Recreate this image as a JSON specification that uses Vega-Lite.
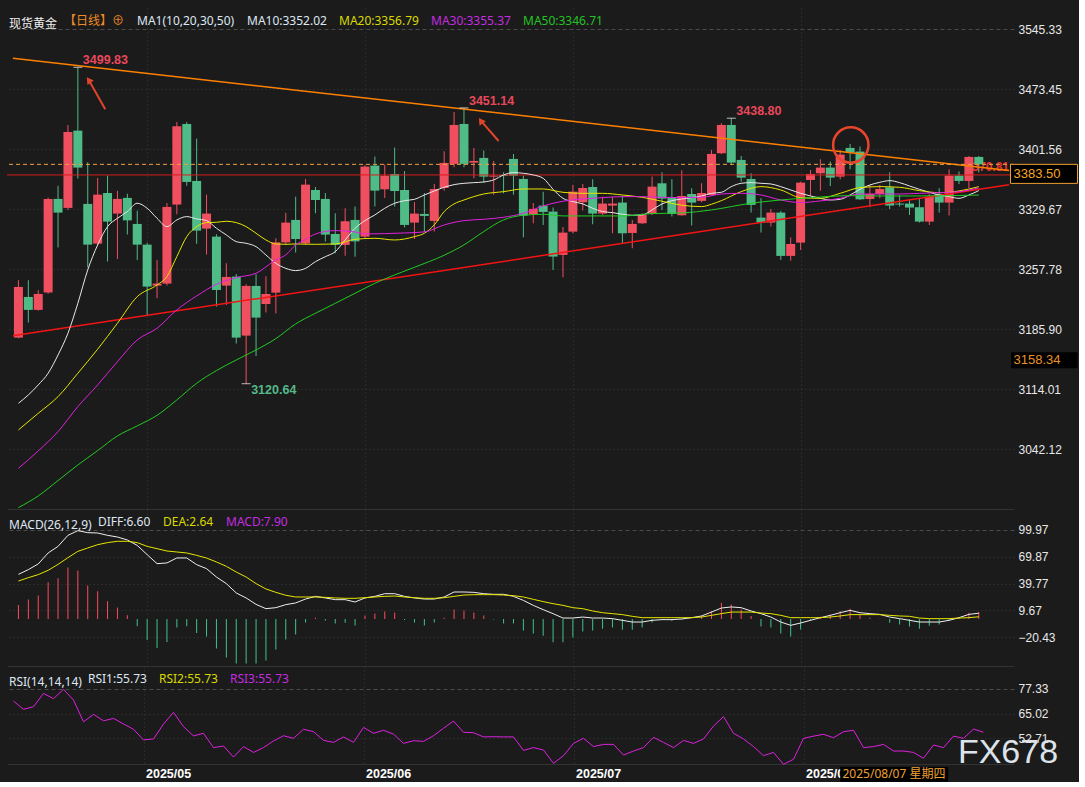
{
"$schema": "https://vega.github.io/schema/vega-lite/v6.json",
"background": "#1b1b1b",
"padding": {"left": 6, "top": 8, "right": 0, "bottom": 0},
"bounds": "flush",
"spacing": 0,
"config": {"view": {"stroke": null}, "font": "Liberation Sans", "axis": {"labelOverlap": false}},
"resolve": {"scale": {"x": "independent", "y": "independent", "color": "independent"}, "legend": {"color": "independent"}},
"datasets": {
"candles": [
{"i":0,"o":3175.9,"h":3244.6,"l":3175.0,"c":3236.6},
{"i":1,"o":3224.6,"h":3244.6,"l":3193.9,"c":3209.1},
{"i":2,"o":3209.1,"h":3232.6,"l":3208.0,"c":3228.2},
{"i":3,"o":3229.8,"h":3343.7,"l":3228.5,"c":3342.1},
{"i":4,"o":3342.1,"h":3358.0,"l":3283.8,"c":3325.7},
{"i":5,"o":3331.3,"h":3430.7,"l":3328.9,"c":3422.3},
{"i":6,"o":3423.9,"h":3499.83,"l":3366.4,"c":3379.6},
{"i":7,"o":3336.1,"h":3386.0,"l":3259.8,"c":3287.3},
{"i":8,"o":3288.5,"h":3367.2,"l":3286.5,"c":3347.2},
{"i":9,"o":3349.2,"h":3370.0,"l":3267.2,"c":3314.9},
{"i":10,"o":3324.5,"h":3352.0,"l":3270.1,"c":3342.1},
{"i":11,"o":3343.3,"h":3348.4,"l":3299.4,"c":3316.4},
{"i":12,"o":3312.1,"h":3327.8,"l":3268.9,"c":3287.3},
{"i":13,"o":3287.3,"h":3289.7,"l":3201.9,"c":3237.0},
{"i":14,"o":3238.2,"h":3269.0,"l":3223.0,"c":3240.6},
{"i":15,"o":3240.6,"h":3337.3,"l":3238.2,"c":3332.5},
{"i":16,"o":3335.3,"h":3434.3,"l":3323.7,"c":3429.1},
{"i":17,"o":3431.9,"h":3434.3,"l":3358.0,"c":3362.4},
{"i":18,"o":3363.6,"h":3414.3,"l":3288.5,"c":3304.1},
{"i":19,"o":3306.5,"h":3347.2,"l":3275.4,"c":3324.5},
{"i":20,"o":3296.9,"h":3299.7,"l":3213.1,"c":3233.0},
{"i":21,"o":3238.2,"h":3265.0,"l":3215.0,"c":3248.6},
{"i":22,"o":3249.0,"h":3252.2,"l":3168.7,"c":3175.9},
{"i":23,"o":3178.3,"h":3239.8,"l":3120.64,"c":3237.8},
{"i":24,"o":3237.8,"h":3251.8,"l":3153.9,"c":3199.9},
{"i":25,"o":3216.2,"h":3249.4,"l":3205.9,"c":3228.2},
{"i":26,"o":3229.8,"h":3295.0,"l":3204.7,"c":3290.0},
{"i":27,"o":3290.0,"h":3325.5,"l":3287.0,"c":3313.7},
{"i":28,"o":3316.9,"h":3344.8,"l":3278.0,"c":3294.0},
{"i":29,"o":3288.9,"h":3366.0,"l":3287.0,"c":3359.2},
{"i":30,"o":3352.8,"h":3356.4,"l":3324.9,"c":3340.8},
{"i":31,"o":3342.1,"h":3349.2,"l":3291.2,"c":3299.3},
{"i":32,"o":3300.1,"h":3324.9,"l":3276.9,"c":3287.0},
{"i":33,"o":3287.0,"h":3330.9,"l":3274.1,"c":3315.3},
{"i":34,"o":3316.9,"h":3332.9,"l":3272.9,"c":3291.2},
{"i":35,"o":3296.9,"h":3382.5,"l":3295.0,"c":3380.8},
{"i":36,"o":3382.0,"h":3392.8,"l":3332.9,"c":3352.0},
{"i":37,"o":3353.6,"h":3383.2,"l":3343.2,"c":3370.0},
{"i":38,"o":3372.0,"h":3403.6,"l":3332.9,"c":3351.6},
{"i":39,"o":3352.8,"h":3375.6,"l":3307.7,"c":3310.9},
{"i":40,"o":3313.7,"h":3338.5,"l":3294.0,"c":3324.5},
{"i":41,"o":3324.1,"h":3349.2,"l":3302.5,"c":3321.7},
{"i":42,"o":3315.7,"h":3360.0,"l":3302.9,"c":3354.0},
{"i":43,"o":3355.2,"h":3399.2,"l":3352.0,"c":3385.2},
{"i":44,"o":3384.0,"h":3446.3,"l":3380.0,"c":3430.7},
{"i":45,"o":3431.9,"h":3451.14,"l":3380.0,"c":3384.0},
{"i":46,"o":3385.6,"h":3403.2,"l":3366.8,"c":3387.6},
{"i":47,"o":3391.2,"h":3400.0,"l":3361.6,"c":3368.8},
{"i":48,"o":3368.8,"h":3387.6,"l":3347.2,"c":3370.0},
{"i":49,"o":3370.5,"h":3374.0,"l":3348.8,"c":3369.5},
{"i":50,"o":3390.0,"h":3396.0,"l":3347.2,"c":3370.0},
{"i":51,"o":3366.0,"h":3370.0,"l":3296.1,"c":3322.1},
{"i":52,"o":3323.7,"h":3337.3,"l":3312.9,"c":3330.1},
{"i":53,"o":3334.1,"h":3350.8,"l":3310.9,"c":3326.5},
{"i":54,"o":3326.9,"h":3331.7,"l":3257.0,"c":3273.0},
{"i":55,"o":3275.0,"h":3308.5,"l":3248.2,"c":3301.7},
{"i":56,"o":3302.9,"h":3358.8,"l":3300.9,"c":3350.8},
{"i":57,"o":3338.1,"h":3360.0,"l":3328.1,"c":3355.2},
{"i":58,"o":3356.4,"h":3365.6,"l":3311.7,"c":3324.5},
{"i":59,"o":3324.5,"h":3344.8,"l":3322.9,"c":3336.5},
{"i":60,"o":3334.1,"h":3344.8,"l":3300.9,"c":3336.5},
{"i":61,"o":3337.7,"h":3346.0,"l":3288.9,"c":3300.9},
{"i":62,"o":3301.3,"h":3316.9,"l":3282.9,"c":3312.1},
{"i":63,"o":3312.9,"h":3324.9,"l":3312.1,"c":3322.9},
{"i":64,"o":3324.5,"h":3368.8,"l":3322.9,"c":3356.8},
{"i":65,"o":3360.8,"h":3374.0,"l":3328.9,"c":3342.4},
{"i":66,"o":3344.0,"h":3365.6,"l":3320.9,"c":3324.1},
{"i":67,"o":3322.5,"h":3376.4,"l":3322.0,"c":3345.6},
{"i":68,"o":3348.0,"h":3354.8,"l":3310.1,"c":3337.7},
{"i":69,"o":3339.7,"h":3360.8,"l":3338.0,"c":3349.2},
{"i":70,"o":3346.8,"h":3400.8,"l":3346.0,"c":3396.0},
{"i":71,"o":3396.8,"h":3432.7,"l":3396.0,"c":3430.7},
{"i":72,"o":3430.7,"h":3438.80,"l":3382.8,"c":3385.6},
{"i":73,"o":3388.8,"h":3393.6,"l":3362.8,"c":3367.6},
{"i":74,"o":3366.0,"h":3372.8,"l":3325.7,"c":3334.9},
{"i":75,"o":3319.7,"h":3342.8,"l":3301.7,"c":3313.7},
{"i":76,"o":3313.7,"h":3330.0,"l":3308.9,"c":3325.7},
{"i":77,"o":3325.7,"h":3327.5,"l":3268.9,"c":3273.8},
{"i":78,"o":3273.8,"h":3296.0,"l":3268.0,"c":3288.1},
{"i":79,"o":3289.7,"h":3362.8,"l":3281.0,"c":3361.6},
{"i":80,"o":3364.8,"h":3376.8,"l":3345.6,"c":3372.0},
{"i":81,"o":3372.8,"h":3389.6,"l":3352.0,"c":3379.6},
{"i":82,"o":3379.6,"h":3386.8,"l":3357.6,"c":3367.6},
{"i":83,"o":3368.8,"h":3400.8,"l":3365.6,"c":3395.2},
{"i":84,"o":3403.2,"h":3408.0,"l":3377.6,"c":3397.6},
{"i":85,"o":3398.8,"h":3404.8,"l":3340.8,"c":3341.6},
{"i":86,"o":3342.0,"h":3358.8,"l":3332.1,"c":3348.0},
{"i":87,"o":3348.0,"h":3358.8,"l":3342.8,"c":3354.0},
{"i":88,"o":3356.0,"h":3374.0,"l":3330.1,"c":3334.1},
{"i":89,"o":3336.5,"h":3346.8,"l":3332.9,"c":3335.3},
{"i":90,"o":3336.5,"h":3341.6,"l":3322.9,"c":3331.7},
{"i":91,"o":3332.1,"h":3342.8,"l":3313.7,"c":3314.9},
{"i":92,"o":3314.9,"h":3348.0,"l":3310.9,"c":3344.8},
{"i":93,"o":3348.0,"h":3354.8,"l":3325.7,"c":3337.7},
{"i":94,"o":3337.7,"h":3377.6,"l":3322.1,"c":3370.0},
{"i":95,"o":3370.0,"h":3374.8,"l":3360.0,"c":3363.6},
{"i":96,"o":3363.6,"h":3393.6,"l":3354.8,"c":3392.4},
{"i":97,"o":3392.4,"h":3393.6,"l":3373.6,"c":3383.5}
],
"ma": [
{"i":0,"ma":"MA10","v":3097.2},{"i":1,"ma":"MA10","v":3107.2},{"i":2,"ma":"MA10","v":3119.2},{"i":3,"ma":"MA10","v":3133.2},{"i":4,"ma":"MA10","v":3155.1},{"i":5,"ma":"MA10","v":3181.1},{"i":6,"ma":"MA10","v":3217.0},{"i":7,"ma":"MA10","v":3257.0},{"i":8,"ma":"MA10","v":3286.9},{"i":9,"ma":"MA10","v":3308.9},
{"i":10,"ma":"MA10","v":3318.9},{"i":11,"ma":"MA10","v":3326.9},{"i":12,"ma":"MA10","v":3336.9},{"i":13,"ma":"MA10","v":3330.9},{"i":14,"ma":"MA10","v":3318.9},{"i":15,"ma":"MA10","v":3308.9},{"i":16,"ma":"MA10","v":3316.9},{"i":17,"ma":"MA10","v":3320.9},{"i":18,"ma":"MA10","v":3318.1},{"i":19,"ma":"MA10","v":3316.1},
{"i":20,"ma":"MA10","v":3306.9},{"i":21,"ma":"MA10","v":3298.9},{"i":22,"ma":"MA10","v":3290.9},{"i":23,"ma":"MA10","v":3288.9},{"i":24,"ma":"MA10","v":3284.9},{"i":25,"ma":"MA10","v":3274.9},{"i":26,"ma":"MA10","v":3264.9},{"i":27,"ma":"MA10","v":3258.9},{"i":28,"ma":"MA10","v":3256.2},{"i":29,"ma":"MA10","v":3258.9},
{"i":30,"ma":"MA10","v":3266.9},{"i":31,"ma":"MA10","v":3272.9},{"i":32,"ma":"MA10","v":3278.9},{"i":33,"ma":"MA10","v":3292.9},{"i":34,"ma":"MA10","v":3306.9},{"i":35,"ma":"MA10","v":3316.1},{"i":36,"ma":"MA10","v":3322.9},{"i":37,"ma":"MA10","v":3330.9},{"i":38,"ma":"MA10","v":3336.9},{"i":39,"ma":"MA10","v":3340.0},
{"i":40,"ma":"MA10","v":3341.6},{"i":41,"ma":"MA10","v":3346.8},{"i":42,"ma":"MA10","v":3351.6},{"i":43,"ma":"MA10","v":3356.0},{"i":44,"ma":"MA10","v":3359.2},{"i":45,"ma":"MA10","v":3360.8},{"i":46,"ma":"MA10","v":3361.6},{"i":47,"ma":"MA10","v":3362.4},{"i":48,"ma":"MA10","v":3364.8},{"i":49,"ma":"MA10","v":3370.8},
{"i":50,"ma":"MA10","v":3373.6},{"i":51,"ma":"MA10","v":3372.8},{"i":52,"ma":"MA10","v":3370.8},{"i":53,"ma":"MA10","v":3366.8},{"i":54,"ma":"MA10","v":3353.6},{"i":55,"ma":"MA10","v":3342.8},{"i":56,"ma":"MA10","v":3338.9},{"i":57,"ma":"MA10","v":3336.1},{"i":58,"ma":"MA10","v":3330.9},{"i":59,"ma":"MA10","v":3326.9},
{"i":60,"ma":"MA10","v":3325.7},{"i":61,"ma":"MA10","v":3323.7},{"i":62,"ma":"MA10","v":3322.5},{"i":63,"ma":"MA10","v":3322.9},{"i":64,"ma":"MA10","v":3328.9},{"i":65,"ma":"MA10","v":3336.1},{"i":66,"ma":"MA10","v":3340.0},{"i":67,"ma":"MA10","v":3342.0},{"i":68,"ma":"MA10","v":3343.6},{"i":69,"ma":"MA10","v":3345.6},
{"i":70,"ma":"MA10","v":3348.8},{"i":71,"ma":"MA10","v":3350.0},{"i":72,"ma":"MA10","v":3356.8},{"i":73,"ma":"MA10","v":3360.8},{"i":74,"ma":"MA10","v":3361.6},{"i":75,"ma":"MA10","v":3360.8},{"i":76,"ma":"MA10","v":3360.0},{"i":77,"ma":"MA10","v":3356.8},{"i":78,"ma":"MA10","v":3352.8},{"i":79,"ma":"MA10","v":3348.8},
{"i":80,"ma":"MA10","v":3345.6},{"i":81,"ma":"MA10","v":3342.8},{"i":82,"ma":"MA10","v":3340.8},{"i":83,"ma":"MA10","v":3341.6},{"i":84,"ma":"MA10","v":3346.8},{"i":85,"ma":"MA10","v":3353.6},{"i":86,"ma":"MA10","v":3358.8},{"i":87,"ma":"MA10","v":3362.0},{"i":88,"ma":"MA10","v":3364.0},{"i":89,"ma":"MA10","v":3361.6},
{"i":90,"ma":"MA10","v":3357.6},{"i":91,"ma":"MA10","v":3353.6},{"i":92,"ma":"MA10","v":3350.0},{"i":93,"ma":"MA10","v":3346.8},{"i":94,"ma":"MA10","v":3344.8},{"i":95,"ma":"MA10","v":3342.8},{"i":96,"ma":"MA10","v":3346.8},{"i":97,"ma":"MA10","v":3352.02},
{"i":0,"ma":"MA20","v":3065.3},{"i":2,"ma":"MA20","v":3085.2},{"i":4,"ma":"MA20","v":3105.2},{"i":6,"ma":"MA20","v":3133.2},{"i":8,"ma":"MA20","v":3162.0},{"i":10,"ma":"MA20","v":3193.1},{"i":12,"ma":"MA20","v":3225.0},{"i":14,"ma":"MA20","v":3239.0},{"i":15,"ma":"MA20","v":3249.0},{"i":16,"ma":"MA20","v":3273.0},
{"i":17,"ma":"MA20","v":3296.9},{"i":18,"ma":"MA20","v":3308.9},{"i":19,"ma":"MA20","v":3313.7},{"i":20,"ma":"MA20","v":3314.1},{"i":21,"ma":"MA20","v":3315.3},{"i":22,"ma":"MA20","v":3313.7},{"i":23,"ma":"MA20","v":3308.9},{"i":24,"ma":"MA20","v":3300.9},{"i":25,"ma":"MA20","v":3292.9},{"i":26,"ma":"MA20","v":3288.1},
{"i":27,"ma":"MA20","v":3287.7},{"i":28,"ma":"MA20","v":3288.1},{"i":30,"ma":"MA20","v":3287.7},{"i":32,"ma":"MA20","v":3288.1},{"i":34,"ma":"MA20","v":3293.7},{"i":36,"ma":"MA20","v":3294.9},{"i":38,"ma":"MA20","v":3292.9},{"i":40,"ma":"MA20","v":3296.9},{"i":41,"ma":"MA20","v":3300.9},{"i":42,"ma":"MA20","v":3310.9},
{"i":43,"ma":"MA20","v":3326.9},{"i":44,"ma":"MA20","v":3336.1},{"i":45,"ma":"MA20","v":3340.8},{"i":47,"ma":"MA20","v":3348.0},{"i":49,"ma":"MA20","v":3350.8},{"i":51,"ma":"MA20","v":3354.0},{"i":53,"ma":"MA20","v":3354.0},{"i":55,"ma":"MA20","v":3350.0},{"i":57,"ma":"MA20","v":3348.8},{"i":59,"ma":"MA20","v":3348.8},
{"i":61,"ma":"MA20","v":3346.8},{"i":63,"ma":"MA20","v":3344.0},{"i":65,"ma":"MA20","v":3339.3},{"i":67,"ma":"MA20","v":3334.5},{"i":69,"ma":"MA20","v":3332.9},{"i":70,"ma":"MA20","v":3335.7},{"i":71,"ma":"MA20","v":3340.0},{"i":73,"ma":"MA20","v":3350.8},{"i":75,"ma":"MA20","v":3356.8},{"i":77,"ma":"MA20","v":3352.8},
{"i":79,"ma":"MA20","v":3343.6},{"i":81,"ma":"MA20","v":3342.8},{"i":83,"ma":"MA20","v":3348.8},{"i":85,"ma":"MA20","v":3355.6},{"i":87,"ma":"MA20","v":3356.8},{"i":89,"ma":"MA20","v":3356.0},{"i":91,"ma":"MA20","v":3352.0},{"i":93,"ma":"MA20","v":3349.6},{"i":95,"ma":"MA20","v":3351.6},{"i":97,"ma":"MA20","v":3356.79},
{"i":0,"ma":"MA30","v":3019.3},{"i":2,"ma":"MA30","v":3040.1},{"i":4,"ma":"MA30","v":3063.3},{"i":6,"ma":"MA30","v":3093.2},{"i":8,"ma":"MA30","v":3119.2},{"i":10,"ma":"MA30","v":3147.1},{"i":12,"ma":"MA30","v":3173.1},{"i":14,"ma":"MA30","v":3187.1},{"i":16,"ma":"MA30","v":3209.1},{"i":18,"ma":"MA30","v":3225.8},
{"i":20,"ma":"MA30","v":3239.8},{"i":22,"ma":"MA30","v":3247.8},{"i":24,"ma":"MA30","v":3253.0},{"i":26,"ma":"MA30","v":3269.0},{"i":27,"ma":"MA30","v":3275.0},{"i":28,"ma":"MA30","v":3286.9},{"i":29,"ma":"MA30","v":3293.7},{"i":30,"ma":"MA30","v":3300.1},{"i":32,"ma":"MA30","v":3304.1},{"i":34,"ma":"MA30","v":3302.5},
{"i":35,"ma":"MA30","v":3300.1},{"i":37,"ma":"MA30","v":3300.5},{"i":39,"ma":"MA30","v":3301.3},{"i":41,"ma":"MA30","v":3302.5},{"i":43,"ma":"MA30","v":3310.9},{"i":45,"ma":"MA30","v":3316.1},{"i":47,"ma":"MA30","v":3317.7},{"i":49,"ma":"MA30","v":3320.1},{"i":51,"ma":"MA30","v":3324.9},{"i":53,"ma":"MA30","v":3333.7},
{"i":55,"ma":"MA30","v":3339.3},{"i":57,"ma":"MA30","v":3342.0},{"i":59,"ma":"MA30","v":3343.6},{"i":61,"ma":"MA30","v":3344.8},{"i":63,"ma":"MA30","v":3344.8},{"i":65,"ma":"MA30","v":3344.0},{"i":67,"ma":"MA30","v":3343.6},{"i":69,"ma":"MA30","v":3344.0},{"i":71,"ma":"MA30","v":3348.0},{"i":73,"ma":"MA30","v":3348.8},
{"i":75,"ma":"MA30","v":3346.8},{"i":77,"ma":"MA30","v":3340.8},{"i":79,"ma":"MA30","v":3337.7},{"i":81,"ma":"MA30","v":3339.7},{"i":83,"ma":"MA30","v":3342.8},{"i":85,"ma":"MA30","v":3348.0},{"i":87,"ma":"MA30","v":3348.0},{"i":89,"ma":"MA30","v":3348.0},{"i":91,"ma":"MA30","v":3348.8},{"i":93,"ma":"MA30","v":3349.6},
{"i":95,"ma":"MA30","v":3350.8},{"i":97,"ma":"MA30","v":3355.37},
{"i":0,"ma":"MA50","v":2972.2},{"i":2,"ma":"MA50","v":2986.2},{"i":4,"ma":"MA50","v":3004.6},{"i":6,"ma":"MA50","v":3023.3},{"i":8,"ma":"MA50","v":3040.5},{"i":10,"ma":"MA50","v":3058.1},{"i":12,"ma":"MA50","v":3070.1},{"i":14,"ma":"MA50","v":3082.8},{"i":16,"ma":"MA50","v":3101.2},{"i":18,"ma":"MA50","v":3121.2},
{"i":20,"ma":"MA50","v":3136.4},{"i":22,"ma":"MA50","v":3149.1},{"i":24,"ma":"MA50","v":3161.1},{"i":26,"ma":"MA50","v":3174.7},{"i":28,"ma":"MA50","v":3192.3},{"i":30,"ma":"MA50","v":3205.1},{"i":32,"ma":"MA50","v":3217.0},{"i":34,"ma":"MA50","v":3229.0},{"i":36,"ma":"MA50","v":3241.0},{"i":38,"ma":"MA50","v":3251.0},
{"i":40,"ma":"MA50","v":3260.2},{"i":43,"ma":"MA50","v":3274.6},{"i":45,"ma":"MA50","v":3287.0},{"i":47,"ma":"MA50","v":3303.0},{"i":49,"ma":"MA50","v":3317.0},{"i":51,"ma":"MA50","v":3322.5},{"i":53,"ma":"MA50","v":3323.7},{"i":55,"ma":"MA50","v":3321.7},{"i":58,"ma":"MA50","v":3321.7},{"i":61,"ma":"MA50","v":3321.7},
{"i":64,"ma":"MA50","v":3324.5},{"i":67,"ma":"MA50","v":3325.3},{"i":70,"ma":"MA50","v":3328.9},{"i":74,"ma":"MA50","v":3336.9},{"i":77,"ma":"MA50","v":3340.8},{"i":80,"ma":"MA50","v":3343.6},{"i":84,"ma":"MA50","v":3346.0},{"i":87,"ma":"MA50","v":3345.6},{"i":90,"ma":"MA50","v":3345.6},{"i":94,"ma":"MA50","v":3346.0},
{"i":97,"ma":"MA50","v":3346.71}
],
"macd": [
{"i":0,"diff":50.2,"dea":42.7,"hist":15.7},{"i":1,"diff":55.5,"dea":46.5,"hist":22.1},{"i":2,"diff":61.9,"dea":49.9,"hist":26.6},{"i":3,"diff":74.2,"dea":54.7,"hist":41.2},{"i":4,"diff":81.6,"dea":61.4,"hist":45.7},
{"i":5,"diff":94.0,"dea":68.9,"hist":58.0},{"i":6,"diff":99.2,"dea":76.0,"hist":54.6},{"i":7,"diff":97.0,"dea":79.8,"hist":37.8},{"i":8,"diff":96.6,"dea":83.5,"hist":31.1},{"i":9,"diff":94.0,"dea":85.8,"hist":19.9},
{"i":10,"diff":92.1,"dea":87.3,"hist":13.1},{"i":11,"diff":88.8,"dea":87.3,"hist":4.2},{"i":12,"diff":82.7,"dea":85.8,"hist":-7.9},{"i":13,"diff":72.3,"dea":81.6,"hist":-23.6},{"i":14,"diff":62.2,"dea":79.0,"hist":-32.5},
{"i":15,"diff":63.0,"dea":76.4,"hist":-25.8},{"i":16,"diff":68.6,"dea":75.3,"hist":-9.4},{"i":17,"diff":68.6,"dea":74.2,"hist":-7.9},{"i":18,"diff":61.1,"dea":71.5,"hist":-15.7},{"i":19,"diff":56.6,"dea":68.5,"hist":-19.5},
{"i":20,"diff":47.2,"dea":64.1,"hist":-33.0},{"i":21,"diff":39.8,"dea":59.2,"hist":-43.1},{"i":22,"diff":29.3,"dea":52.8,"hist":-49.8},{"i":23,"diff":23.7,"dea":47.2,"hist":-49.8},{"i":24,"diff":16.5,"dea":39.8,"hist":-49.8},
{"i":25,"diff":11.7,"dea":33.8,"hist":-46.5},{"i":26,"diff":12.8,"dea":30.0,"hist":-34.1},{"i":27,"diff":16.2,"dea":26.7,"hist":-22.9},{"i":28,"diff":18.1,"dea":24.8,"hist":-17.3},{"i":29,"diff":22.5,"dea":24.8,"hist":-3.8},
{"i":30,"diff":25.5,"dea":24.8,"hist":1.5},{"i":31,"diff":23.7,"dea":24.4,"hist":-1.6},{"i":32,"diff":21.8,"dea":23.7,"hist":-4.9},{"i":33,"diff":21.8,"dea":23.3,"hist":-4.2},{"i":34,"diff":19.2,"dea":23.3,"hist":-7.2},
{"i":35,"diff":23.7,"dea":24.0,"hist":4.0},{"i":36,"diff":25.5,"dea":24.8,"hist":6.3},{"i":37,"diff":28.5,"dea":25.5,"hist":8.5},{"i":38,"diff":28.5,"dea":25.9,"hist":7.4},{"i":39,"diff":25.5,"dea":24.8,"hist":-1.1},
{"i":40,"diff":23.7,"dea":24.0,"hist":-3.8},{"i":41,"diff":22.5,"dea":23.3,"hist":-7.2},{"i":42,"diff":22.5,"dea":23.3,"hist":-3.8},{"i":43,"diff":24.8,"dea":24.0,"hist":1.5},{"i":44,"diff":30.4,"dea":25.5,"hist":10.8},
{"i":45,"diff":30.4,"dea":27.0,"hist":9.7},{"i":46,"diff":30.0,"dea":27.4,"hist":7.4},{"i":47,"diff":28.5,"dea":27.4,"hist":4.0},{"i":48,"diff":27.8,"dea":27.4,"hist":-0.5},{"i":49,"diff":27.8,"dea":27.0,"hist":-4.9},
{"i":50,"diff":25.5,"dea":26.3,"hist":-4.9},{"i":51,"diff":21.0,"dea":24.8,"hist":-12.8},{"i":52,"diff":15.4,"dea":22.2,"hist":-16.2},{"i":53,"diff":10.6,"dea":19.6,"hist":-18.6},{"i":54,"diff":6.1,"dea":17.3,"hist":-26.1},
{"i":55,"diff":1.2,"dea":15.4,"hist":-26.1},{"i":56,"diff":1.2,"dea":12.8,"hist":-20.6},{"i":57,"diff":2.3,"dea":11.7,"hist":-13.9},{"i":58,"diff":1.2,"dea":9.1,"hist":-12.8},{"i":59,"diff":1.2,"dea":7.2,"hist":-10.9},
{"i":60,"diff":0.5,"dea":6.1,"hist":-9.4},{"i":61,"diff":-1.4,"dea":5.0,"hist":-12.0},{"i":62,"diff":-3.3,"dea":3.1,"hist":-12.0},{"i":63,"diff":-3.3,"dea":1.6,"hist":-9.4},{"i":64,"diff":-1.4,"dea":1.6,"hist":-3.8},
{"i":65,"diff":-0.6,"dea":1.6,"hist":-1.1},{"i":66,"diff":-0.6,"dea":1.6,"hist":-2.2},{"i":67,"diff":0.1,"dea":1.6,"hist":-0.4},{"i":68,"diff":1.6,"dea":1.6,"hist":0.4},{"i":69,"diff":3.5,"dea":2.3,"hist":3.7},
{"i":70,"diff":7.9,"dea":4.2,"hist":9.0},{"i":71,"diff":12.4,"dea":6.1,"hist":18.3},{"i":72,"diff":13.6,"dea":7.9,"hist":16.4},{"i":73,"diff":12.8,"dea":7.9,"hist":10.8},{"i":74,"diff":9.1,"dea":7.9,"hist":3.4},
{"i":75,"diff":6.1,"dea":6.8,"hist":-8.3},{"i":76,"diff":2.3,"dea":6.1,"hist":-9.4},{"i":77,"diff":-3.3,"dea":4.2,"hist":-16.2},{"i":78,"diff":-7.0,"dea":1.6,"hist":-19.5},{"i":79,"diff":-4.4,"dea":1.6,"hist":-11.7},
{"i":80,"diff":-1.4,"dea":1.6,"hist":-1.6},{"i":81,"diff":1.6,"dea":1.6,"hist":2.6},{"i":82,"diff":4.2,"dea":2.3,"hist":5.2},{"i":83,"diff":7.2,"dea":3.5,"hist":9.0},{"i":84,"diff":9.8,"dea":5.0,"hist":11.6},
{"i":85,"diff":7.2,"dea":5.0,"hist":5.2},{"i":86,"diff":6.1,"dea":5.0,"hist":1.5},{"i":87,"diff":5.3,"dea":5.0,"hist":0.4},{"i":88,"diff":2.3,"dea":4.2,"hist":-4.2},{"i":89,"diff":0.5,"dea":3.5,"hist":-6.0},
{"i":90,"diff":-1.4,"dea":3.1,"hist":-8.3},{"i":91,"diff":-3.3,"dea":1.2,"hist":-10.9},{"i":92,"diff":-3.3,"dea":0.5,"hist":-7.5},{"i":93,"diff":-3.3,"dea":0.5,"hist":-6.0},{"i":94,"diff":-1.4,"dea":0.5,"hist":-1.9},
{"i":95,"diff":1.6,"dea":1.2,"hist":1.5},{"i":96,"diff":5.3,"dea":1.6,"hist":7.1},{"i":97,"diff":6.6,"dea":2.6,"hist":7.9}
],
"rsi": [
{"i":0,"v":71.2},{"i":1,"v":67.1},{"i":2,"v":68.4},{"i":3,"v":75.0},{"i":4,"v":72.4},{"i":5,"v":77.0},{"i":6,"v":71.7},{"i":7,"v":60.9},{"i":8,"v":64.6},{"i":9,"v":61.4},
{"i":10,"v":62.6},{"i":11,"v":59.8},{"i":12,"v":57.2},{"i":13,"v":51.9},{"i":14,"v":52.4},{"i":15,"v":59.8},{"i":16,"v":65.6},{"i":17,"v":58.5},{"i":18,"v":53.9},{"i":19,"v":55.2},
{"i":20,"v":48.1},{"i":21,"v":48.9},{"i":22,"v":43.4},{"i":23,"v":48.6},{"i":24,"v":45.7},{"i":25,"v":48.1},{"i":26,"v":51.4},{"i":27,"v":54.0},{"i":28,"v":52.7},{"i":29,"v":57.2},
{"i":30,"v":56.0},{"i":31,"v":51.7},{"i":32,"v":50.7},{"i":33,"v":53.4},{"i":34,"v":50.7},{"i":35,"v":58.1},{"i":36,"v":55.2},{"i":37,"v":56.7},{"i":38,"v":54.8},{"i":39,"v":50.2},
{"i":40,"v":51.5},{"i":41,"v":51.2},{"i":42,"v":54.0},{"i":43,"v":57.7},{"i":44,"v":61.3},{"i":45,"v":55.7},{"i":46,"v":55.5},{"i":47,"v":53.4},{"i":48,"v":53.5},{"i":49,"v":53.4},
{"i":50,"v":53.4},{"i":51,"v":46.7},{"i":52,"v":48.1},{"i":53,"v":46.9},{"i":54,"v":40.3},{"i":55,"v":44.1},{"i":56,"v":50.2},{"i":57,"v":52.7},{"i":58,"v":48.6},{"i":59,"v":49.7},
{"i":60,"v":49.7},{"i":61,"v":44.4},{"i":62,"v":46.4},{"i":63,"v":48.1},{"i":64,"v":53.2},{"i":65,"v":50.7},{"i":66,"v":48.1},{"i":67,"v":51.7},{"i":68,"v":50.2},{"i":69,"v":52.4},
{"i":70,"v":58.8},{"i":71,"v":63.5},{"i":72,"v":55.2},{"i":73,"v":52.4},{"i":74,"v":48.6},{"i":75,"v":44.1},{"i":76,"v":45.7},{"i":77,"v":39.8},{"i":78,"v":42.3},{"i":79,"v":52.7},
{"i":80,"v":53.8},{"i":81,"v":54.7},{"i":82,"v":53.0},{"i":83,"v":56.0},{"i":84,"v":56.7},{"i":85,"v":48.1},{"i":86,"v":48.6},{"i":87,"v":49.7},{"i":88,"v":46.4},{"i":89,"v":46.4},
{"i":90,"v":45.7},{"i":91,"v":42.8},{"i":92,"v":49.4},{"i":93,"v":48.1},{"i":94,"v":53.8},{"i":95,"v":52.7},{"i":96,"v":57.3},{"i":97,"v":55.73}
],
"trend": [
{"line":"resistance","i":-0.56,"p":3510.6},{"line":"resistance","i":100.05,"p":3376.0},
{"line":"support","i":-0.56,"p":3178.2},{"line":"support","i":100.05,"p":3359.0}
],
"peaks": [
{"i":6,"p":3499.83,"kind":"high"},{"i":45,"p":3451.14,"kind":"high"},{"i":72,"p":3438.8,"kind":"high"},{"i":23,"p":3120.64,"kind":"low"}
],
"arrows": [
{"i":8.77,"p":3449.5,"i2":7.1,"p2":3484.6},{"i":48.5,"p":3411.5,"i2":46.7,"p2":3435.8}
]
},
"vconcat": [
{
"width": 1007, "height": 501,
"layer": [
{"data": {"name": "candles"},
 "mark": {"type": "bar", "size": 1},
 "encoding": {
  "x": {"field": "i", "type": "quantitative", "scale": {"domain": [-0.65, 100.05], "nice": false, "zero": false},
        "axis": {"values": [13,35,56,79], "grid": true, "gridColor": "#3a3a3a", "gridDash": [1,3], "labels": false, "ticks": false, "domain": true, "domainColor": "#333333", "title": null}},
  "y": {"field": "l", "type": "quantitative", "scale": {"domain": [2970.53, 3570.85], "nice": false, "zero": false},
        "axis": {"orient": "right", "values": [3545.33,3473.45,3401.56,3329.67,3257.78,3185.9,3114.01,3042.12], "format": ".2f", "grid": true,
                 "gridColor": {"condition": {"test": "datum.value > 3540", "value": "#4a4a4a"}, "value": "#3a3a3a"},
                 "gridDash": {"condition": {"test": "datum.value > 3540", "value": [4,3]}, "value": [1,3]},
                 "ticks": false, "domain": false, "labelColor": "#e8e8e8", "labelFont": "Liberation Sans", "labelFontSize": 12, "labelPadding": 4, "labelOverlap": false, "labelBound": false, "labelFlush": false, "title": null}},
  "y2": {"field": "h"},
  "color": {"condition": {"test": "datum.c >= datum.o", "value": "#f04f60"}, "value": "#4fbb87"}
 }},
{"data": {"values": [{"p": 3370.81}]},
 "mark": {"type": "text", "align": "right", "baseline": "alphabetic", "dy": -4, "fontSize": 12, "fontWeight": "bold", "font": "Liberation Sans", "color": "#e8332f"},
 "encoding": {"x": {"datum": 100.05, "type": "quantitative"}, "y": {"field": "p", "type": "quantitative"}, "text": {"field": "p", "format": ".2f"}}},
{"data": {"name": "candles"},
 "mark": {"type": "bar", "size": 9},
 "encoding": {
  "x": {"field": "i", "type": "quantitative"},
  "y": {"field": "o", "type": "quantitative"},
  "y2": {"field": "c"},
  "color": {"condition": {"test": "datum.c >= datum.o", "value": "#f04f60"}, "value": "#4fbb87"}
 }},
{"data": {"name": "trend"},
 "mark": {"type": "line", "strokeWidth": 1.5},
 "encoding": {
  "x": {"field": "i", "type": "quantitative"},
  "y": {"field": "p", "type": "quantitative"},
  "detail": {"field": "line"},
  "color": {"condition": {"test": "datum.line == 'resistance'", "value": "#ff8000"}, "value": "#f41414"}
 }},
{"data": {"values": [{"p": 3370.81}]},
 "mark": {"type": "rule", "strokeWidth": 1, "color": "#d81c1c"},
 "encoding": {"y": {"field": "p", "type": "quantitative"}}},
{"data": {"values": [{"p": 3383.5}]},
 "mark": {"type": "rule", "strokeWidth": 1, "color": "#f0a040", "strokeDash": [4,3]},
 "encoding": {"y": {"field": "p", "type": "quantitative"}}},
{"data": {"name": "ma"},
 "mark": {"type": "line", "strokeWidth": 1, "interpolate": "monotone"},
 "encoding": {
  "x": {"field": "i", "type": "quantitative"},
  "y": {"field": "v", "type": "quantitative"},
  "color": {"field": "ma", "type": "nominal",
   "scale": {"domain": ["日线","MA1","MA10","MA20","MA30","MA50"], "range": ["#f08a24","#e8e8e8","#e8e8e8","#e6e600","#e020e0","#22cc22"]},
   "legend": {"orient": "top-left", "offset": 2, "direction": "horizontal", "padding": 0,
     "title": "现货黄金", "titleOrient": "left", "titleBaseline": "top", "titleColor": "#f0f0f0", "titleFont": "Noto Sans, Noto Sans CJK SC", "titleFontSize": 12, "titleFontWeight": "normal", "titlePadding": -6,
     "labelBaseline": "top", "labelFont": "Noto Sans, Noto Sans CJK SC", "labelFontSize": 12, "labelOffset": 0, "labelLimit": 300,
     "labelColor": {"expr": "datum.value == '日线' ? '#f08a24' : datum.value == 'MA20' ? '#d9d900' : datum.value == 'MA30' ? '#c42ce0' : datum.value == 'MA50' ? '#22c322' : '#dfe7f3'"},
     "labelExpr": "datum.value == '日线' ? '【日线】⊕' : datum.value == 'MA1' ? 'MA1(10,20,30,50)' : datum.value == 'MA10' ? 'MA10:3352.02' : datum.value == 'MA20' ? 'MA20:3356.79' : datum.value == 'MA30' ? 'MA30:3355.37' : 'MA50:3346.71'",
     "symbolSize": 0, "symbolOpacity": 0, "symbolStrokeWidth": 0, "columnPadding": -5}}
 }},
{"data": {"name": "peaks"},
 "mark": {"type": "tick", "orient": "horizontal", "size": 9, "thickness": 1, "color": "#ffffff"},
 "encoding": {"x": {"field": "i", "type": "quantitative"}, "y": {"field": "p", "type": "quantitative"}}},
{"data": {"name": "peaks"},
 "transform": [{"filter": "datum.kind == 'high'"}],
 "mark": {"type": "text", "align": "left", "baseline": "alphabetic", "dx": 5, "dy": -3, "fontSize": 12.5, "fontWeight": "bold", "font": "Liberation Sans", "color": "#e8485a"},
 "encoding": {"x": {"field": "i", "type": "quantitative"}, "y": {"field": "p", "type": "quantitative"}, "text": {"field": "p", "format": ".2f"}}},
{"data": {"name": "peaks"},
 "transform": [{"filter": "datum.kind == 'low'"}],
 "mark": {"type": "text", "align": "left", "baseline": "top", "dx": 5, "dy": 0, "fontSize": 12.5, "fontWeight": "bold", "font": "Liberation Sans", "color": "#55b88a"},
 "encoding": {"x": {"field": "i", "type": "quantitative"}, "y": {"field": "p", "type": "quantitative"}, "text": {"field": "p", "format": ".2f"}}},
{"data": {"name": "arrows"},
 "mark": {"type": "rule", "strokeWidth": 2, "color": "#e0452b"},
 "encoding": {"x": {"field": "i", "type": "quantitative"}, "y": {"field": "p", "type": "quantitative"}, "x2": {"field": "i2"}, "y2": {"field": "p2"}}},
{"data": {"name": "arrows"},
 "mark": {"type": "point", "shape": "triangle-up", "filled": true, "size": 60, "angle": -35, "color": "#e0452b", "opacity": 1},
 "encoding": {"x": {"field": "i2", "type": "quantitative"}, "y": {"field": "p2", "type": "quantitative"}}},
{"data": {"values": [{"i": 84.07, "p": 3406.7}]},
 "mark": {"type": "point", "shape": "circle", "filled": false, "size": 1250, "stroke": "#e8452c", "strokeWidth": 2.5, "opacity": 1},
 "encoding": {"x": {"field": "i", "type": "quantitative"}, "y": {"field": "p", "type": "quantitative"}}},
{"data": {"values": [{"p": 3383.5}]},
 "mark": {"type": "rect", "fill": "#000000", "stroke": "#f0a030", "strokeWidth": 1},
 "encoding": {"x": {"datum": 100.2, "type": "quantitative"}, "x2": {"datum": 106.97}, "y": {"field": "p", "type": "quantitative"}, "y2": {"datum": 3360.7}}},
{"data": {"values": [{"p": 3383.5}]},
 "mark": {"type": "text", "align": "left", "baseline": "middle", "dx": 3, "dy": 9.5, "fontSize": 13, "font": "Liberation Sans", "color": "#f5a623"},
 "encoding": {"x": {"datum": 100.2, "type": "quantitative"}, "y": {"field": "p", "type": "quantitative"}, "text": {"field": "p", "format": ".2f"}}},
{"data": {"values": [{"p": 3158.34}]},
 "mark": {"type": "rect", "fill": "#000000"},
 "encoding": {"x": {"datum": 100.27, "type": "quantitative"}, "x2": {"datum": 106.97}, "y": {"field": "p", "type": "quantitative"}, "y2": {"datum": 3139.2}}},
{"data": {"values": [{"p": 3158.34}]},
 "mark": {"type": "text", "align": "left", "baseline": "middle", "dx": 3, "dy": 8, "fontSize": 13, "font": "Liberation Sans", "color": "#e8902a"},
 "encoding": {"x": {"datum": 100.2, "type": "quantitative"}, "y": {"field": "p", "type": "quantitative"}, "text": {"field": "p", "format": ".2f"}}}
]
},
{
"width": 1007, "height": 157,
"layer": [
{"data": {"name": "macd"},
 "mark": {"type": "bar", "size": 1},
 "encoding": {
  "x": {"field": "i", "type": "quantitative", "scale": {"domain": [-0.65, 100.05], "nice": false, "zero": false},
        "axis": {"values": [13,35,56,79], "grid": true, "gridColor": "#3a3a3a", "gridDash": [1,3], "labels": false, "ticks": false, "domain": true, "domainColor": "#333333", "title": null}},
  "y": {"field": "hist", "type": "quantitative", "scale": {"domain": [-52.64, 123.53], "nice": false, "zero": false},
        "axis": {"orient": "right", "values": [99.97,69.87,39.77,9.67,-20.43], "format": ".2f", "grid": true,
                 "gridColor": {"condition": {"test": "datum.value > 99", "value": "#4a4a4a"}, "value": "#3a3a3a"},
                 "gridDash": {"condition": {"test": "datum.value > 99", "value": [4,3]}, "value": [1,3]},
                 "ticks": false, "domain": false, "labelColor": "#e8e8e8", "labelFont": "Liberation Sans", "labelFontSize": 12, "labelPadding": 4, "labelOverlap": false, "labelSeparation": 0, "labelBound": false, "labelFlush": false, "title": null}},
  "y2": {"datum": 0},
  "color": {"condition": {"test": "datum.hist >= 0", "value": "#ff4a5c"}, "value": "#3ec48a"}
 }},
{"data": {"name": "macd"},
 "mark": {"type": "line", "strokeWidth": 1},
 "encoding": {
  "x": {"field": "i", "type": "quantitative"},
  "y": {"field": "diff", "type": "quantitative",
        "axis": {"orient": "right", "values": [99.97,69.87,39.77,9.67,-20.43], "format": ".2f", "grid": true,
                 "gridColor": {"condition": {"test": "datum.value > 99", "value": "#4a4a4a"}, "value": "#3a3a3a"},
                 "gridDash": {"condition": {"test": "datum.value > 99", "value": [4,3]}, "value": [1,3]},
                 "ticks": false, "domain": false, "labelColor": "#e8e8e8", "labelFont": "Liberation Sans", "labelFontSize": 12, "labelPadding": 4, "labelOverlap": false, "labelSeparation": 0, "labelBound": false, "labelFlush": false, "title": null}},
  "color": {"datum": "DIFF", "type": "nominal",
   "scale": {"domain": ["DIFF","DEA","MACD"], "range": ["#eeeeee","#e6e600","#d21fd6"]},
   "legend": {"orient": "top-left", "offset": 2, "direction": "horizontal", "padding": 0,
     "title": "MACD(26,12,9)", "titleOrient": "left", "titleBaseline": "top", "titleColor": "#dfe7f3", "titleFont": "Noto Sans, Noto Sans CJK SC", "titleFontSize": 12, "titleFontWeight": "normal", "titlePadding": -6,
     "labelBaseline": "top", "labelFont": "Noto Sans, Noto Sans CJK SC", "labelFontSize": 12, "labelOffset": 0, "labelLimit": 300,
     "labelColor": {"expr": "datum.value == 'DEA' ? '#d9d900' : datum.value == 'MACD' ? '#c42ce0' : '#dfe7f3'"},
     "labelExpr": "datum.value == 'DIFF' ? 'DIFF:6.60' : datum.value == 'DEA' ? 'DEA:2.64' : 'MACD:7.90'",
     "symbolSize": 0, "symbolOpacity": 0, "symbolStrokeWidth": 0, "columnPadding": -5}}
 }},
{"data": {"name": "macd"},
 "mark": {"type": "line", "strokeWidth": 1},
 "encoding": {
  "x": {"field": "i", "type": "quantitative"},
  "y": {"field": "dea", "type": "quantitative",
        "axis": {"orient": "right", "values": [99.97,69.87,39.77,9.67,-20.43], "format": ".2f", "grid": true,
                 "gridColor": {"condition": {"test": "datum.value > 99", "value": "#4a4a4a"}, "value": "#3a3a3a"},
                 "gridDash": {"condition": {"test": "datum.value > 99", "value": [4,3]}, "value": [1,3]},
                 "ticks": false, "domain": false, "labelColor": "#e8e8e8", "labelFont": "Liberation Sans", "labelFontSize": 12, "labelPadding": 4, "labelOverlap": false, "labelSeparation": 0, "labelBound": false, "labelFlush": false, "title": null}},
  "color": {"datum": "DEA", "type": "nominal"}
 }}
]
},
{
"width": 1007, "height": 98,
"layer": [
{"data": {"name": "rsi"},
 "mark": {"type": "line", "strokeWidth": 1},
 "encoding": {
  "x": {"field": "i", "type": "quantitative", "scale": {"domain": [-0.65, 100.05], "nice": false, "zero": false},
        "axis": {"values": [13,35,56,79], "grid": true, "gridColor": "#3a3a3a", "gridDash": [1,3], "ticks": false, "domain": true, "domainColor": "#333333",
                 "labels": true, "labelExpr": "datum.value == 13 ? '2025/05' : datum.value == 35 ? '2025/06' : datum.value == 56 ? '2025/07' : '2025/08'",
                 "labelAlign": "left", "labelBaseline": "top", "labelPadding": 3, "labelOffset": 2, "labelColor": "#ffffff", "labelFont": "Liberation Sans", "labelFontSize": 12.5, "labelFontWeight": "bold",
                 "labelOverlap": false, "labelBound": false, "labelFlush": false, "title": null}},
  "y": {"field": "v", "type": "quantitative", "scale": {"domain": [39.96, 88.6], "nice": false, "zero": false},
        "axis": {"orient": "right", "values": [77.33,65.02,52.71], "format": ".2f", "grid": true,
                 "gridColor": {"condition": {"test": "datum.value > 77", "value": "#4a4a4a"}, "value": "#3a3a3a"},
                 "gridDash": {"condition": {"test": "datum.value > 77", "value": [4,3]}, "value": [1,3]},
                 "ticks": false, "domain": false, "labelColor": "#e8e8e8", "labelFont": "Liberation Sans", "labelFontSize": 12, "labelPadding": 4, "labelOverlap": false, "labelBound": false, "labelFlush": false, "title": null}},
  "color": {"datum": "RSI3", "type": "nominal",
   "scale": {"domain": ["RSI1","RSI2","RSI3"], "range": ["#eeeeee","#e6e600","#e020e0"]},
   "legend": {"orient": "top-left", "offset": 2, "direction": "horizontal", "padding": 0,
     "title": "RSI(14,14,14)", "titleOrient": "left", "titleBaseline": "top", "titleColor": "#dfe7f3", "titleFont": "Noto Sans, Noto Sans CJK SC", "titleFontSize": 12, "titleFontWeight": "normal", "titlePadding": -6,
     "labelBaseline": "top", "labelFont": "Noto Sans, Noto Sans CJK SC", "labelFontSize": 12, "labelOffset": 0, "labelLimit": 300,
     "labelColor": {"expr": "datum.value == 'RSI2' ? '#d9d900' : datum.value == 'RSI3' ? '#c42ce0' : '#dfe7f3'"},
     "labelExpr": "datum.value == 'RSI1' ? 'RSI1:55.73' : datum.value == 'RSI2' ? 'RSI2:55.73' : 'RSI3:55.73'",
     "symbolSize": 0, "symbolOpacity": 0, "symbolStrokeWidth": 0, "columnPadding": -5}}
 }},
{"data": {"values": [{"t": "FX678"}]},
 "mark": {"type": "text", "align": "left", "baseline": "alphabetic", "fontSize": 34, "font": "Liberation Sans", "color": "#dde3ea"},
 "encoding": {"x": {"datum": 94.44, "type": "quantitative"}, "y": {"datum": 40.5, "type": "quantitative"}, "text": {"field": "t"}}},
{"data": {"values": [{"t": "2025/08/07 星期四"}]},
 "mark": {"type": "rect", "fill": "#000000"},
 "encoding": {"x": {"datum": 82.67, "type": "quantitative"}, "x2": {"datum": 93.47}, "y": {"datum": 38.5, "type": "quantitative"}, "y2": {"datum": 31.1}}},
{"data": {"values": [{"t": "2025/08/07 星期四"}]},
 "mark": {"type": "text", "align": "left", "baseline": "middle", "fontSize": 12, "font": "Noto Sans, Noto Sans CJK SC", "color": "#f0a030"},
 "encoding": {"x": {"datum": 82.9, "type": "quantitative"}, "y": {"datum": 34.8, "type": "quantitative"}, "text": {"field": "t"}}}
]
}
]
}
